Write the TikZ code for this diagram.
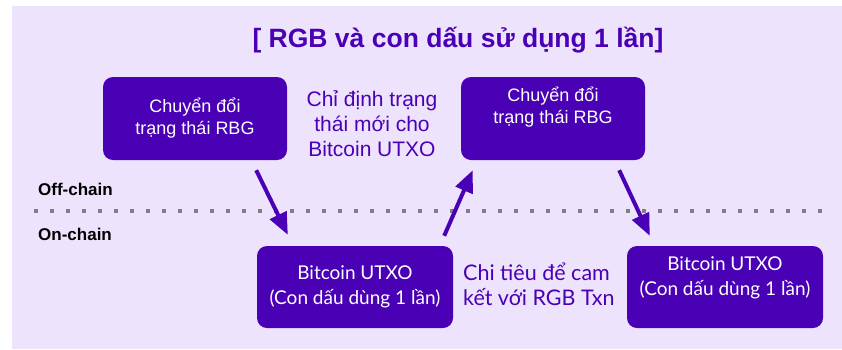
\documentclass[tikz,border=0pt]{standalone}
\usepackage{fontspec}
\setmainfont{Liberation Sans}
\newfontfamily\roundfont{Lato}
\usetikzlibrary{arrows.meta,calc}
\definecolor{bgpanel}{HTML}{EEE3FC}
\definecolor{ink}{HTML}{4A00B4}
\definecolor{dotgray}{HTML}{808080}
\tikzset{
  statebox/.style={fill=ink, rounded corners=10pt, inner sep=0pt, align=center,
    text=white, font=\fontsize{18}{22}\selectfont},
  utxobox/.style={fill=ink, rounded corners=10pt, inner sep=0pt, align=center,
    text=white, font=\roundfont\fontsize{19}{25}\selectfont},
  note/.style={text=ink, align=center, inner sep=0pt},
  chainlabel/.style={anchor=west, inner sep=0pt, font=\bfseries\fontsize{17}{20}\selectfont},
  flow/.style={draw=ink, line width=4pt, -{Triangle[length=22pt,width=18pt]}},
}
\begin{document}
\begin{tikzpicture}[x=1pt,y=-1pt]
  \useasboundingbox (0,0) rectangle (842,349);
  % panel
  \fill[bgpanel] (12,6) rectangle (842,349);

  % title
  \node[note, font=\bfseries\fontsize{26.5}{30}\selectfont] (title) at (458,40)
    {[ RGB và con dấu sử dụng 1 lần]};

  % off-chain / on-chain divider
  \draw[dotgray, line width=4pt, dash pattern=on 4pt off 12pt] (34,211) -- (828,211);
  \node[chainlabel] (off) at (38,189) {Off-chain};
  \node[chainlabel] (on) at (38,234) {On-chain};

  % state transitions (off-chain)
  \node[statebox, minimum width=184, minimum height=83] (s1) at (195,118.5)
    {Chuyển đổi\\trạng thái RBG};
  \node[statebox, minimum width=184, minimum height=83, text depth=27pt] (s2) at (553,118.5)
    {Chuyển đổi\\trạng thái RBG};

  % single-use seals (on-chain)
  \node[utxobox, minimum width=196, minimum height=82] (u1) at (355,287)
    {Bitcoin UTXO\\(Con dấu dùng 1 lần)};
  \node[utxobox, minimum width=196, minimum height=82, text depth=21pt] (u2) at (725,287)
    {Bitcoin UTXO\\(Con dấu dùng 1 lần)};

  % annotations
  \node[note, font=\fontsize{21}{25}\selectfont] (assign) at (372,124)
    {Chỉ định trạng\\thái mới cho\\Bitcoin UTXO};
  \node[note, font=\roundfont\fontsize{21.5}{25}\selectfont, align=left, anchor=west] (spend) at (463,284)
    {Chi tiêu để cam\\kết với RGB Txn};

  % flow arrows
  \draw[flow] ($(s1.south east)+(-31,10)$) -- ($(u1.north west)+(31,-11)$);
  \draw[flow] ($(u1.north east)+(-9,-10)$) -- ($(s2.south west)+(12,10)$);
  \draw[flow] ($(s2.south east)+(-26,10)$) -- ($(u2.north west)+(23,-10)$);
\end{tikzpicture}
\end{document}
